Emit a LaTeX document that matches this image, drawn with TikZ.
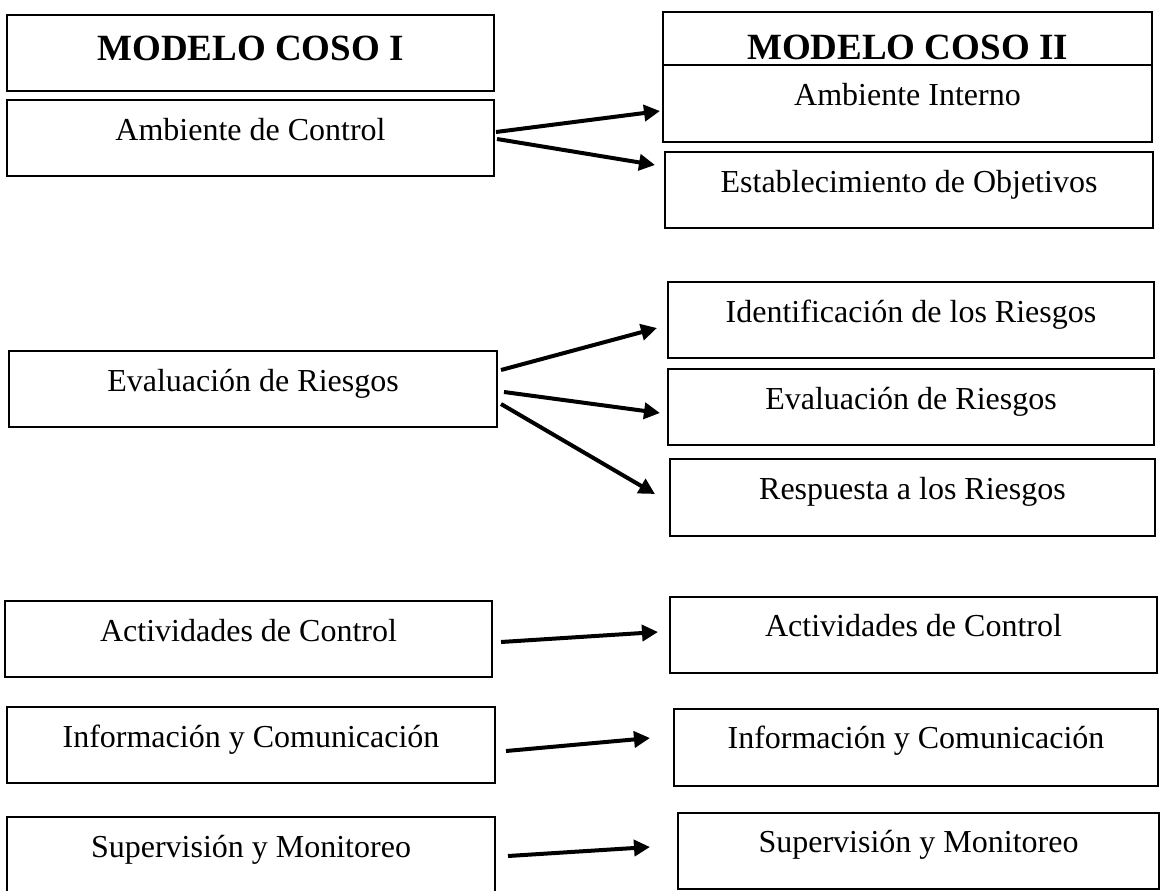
\documentclass[tikz,border=0pt]{standalone}
\usepackage{fontspec}
\setmainfont{Liberation Serif}
\usetikzlibrary{arrows.meta,calc}
\begin{document}
\begin{tikzpicture}[x=1pt,y=-1pt,
  box/.style n args={4}{draw, line width=2.3pt, inner sep=0pt, outer sep=0pt,
    minimum width=#1, minimum height=#2, text height=#3, text depth=#4,
    font=\fontsize{32}{38}\selectfont},
  titlefont/.style={font=\bfseries\fontsize{37}{44}\selectfont},
  conn/.style={line width=4pt, -{Triangle[length=16pt,width=16pt]}}]
\useasboundingbox (0,0) rectangle (1160,891);
% left column
\node[box={487pt}{76pt}{28pt}{12pt}, titlefont] (L0) at (250.5,53) {MODELO COSO I};
\node[box={487pt}{76pt}{22pt}{18pt}] (L1) at (250.5,138) {Ambiente de Control};
\node[box={488pt}{76pt}{22pt}{18pt}] (L2) at (253,389) {Evaluación de Riesgos};
\node[box={487pt}{76pt}{22pt}{18pt}] (L3) at (248.5,639) {Actividades de Control};
\node[box={488pt}{76pt}{22pt}{18pt}] (L4) at (251,745) {Información y Comunicación};
\node[box={488pt}{76pt}{22pt}{18pt}] (L5) at (251,855) {Supervisión y Monitoreo};
% right column
\node[box={489pt}{53pt}{45.5pt}{2.5pt}, titlefont] (R0) at (907.5,38.5) {MODELO COSO II};
\node[box={489pt}{77pt}{22.5pt}{17.5pt}] (R1) at (907.5,103.5) {Ambiente Interno};
\node[box={488pt}{76pt}{22pt}{18pt}] (R2) at (909,190) {Establecimiento de Objetivos};
\node[box={486pt}{76pt}{22pt}{18pt}] (R3) at (911,320) {Identificación de los Riesgos};
\node[box={486pt}{76pt}{22pt}{18pt}] (R4) at (911,407) {Evaluación de Riesgos};
\node[box={485pt}{77pt}{22pt}{18pt}] (R5) at (912.5,497.5) {Respuesta a los Riesgos};
\node[box={487pt}{76pt}{21pt}{19pt}] (R6) at (913.5,635) {Actividades de Control};
\node[box={484pt}{77pt}{21pt}{19pt}] (R7) at (916,747.5) {Información y Comunicación};
\node[box={481pt}{76pt}{21pt}{19pt}] (R8) at (918.5,851) {Supervisión y Monitoreo};
% connectors
\draw[conn] ($(L1.east)+(2,-6)$) -- ($(R1.west)+(-3,7.5)$);
\draw[conn] ($(L1.east)+(3,1)$) -- ($(R2.west)+(-10,-25)$);
\draw[conn] ($(L2.east)+(4,-19)$) -- ($(R3.west)+(-11,8)$);
\draw[conn] ($(L2.east)+(7,3)$) -- ($(R4.west)+(-8,6)$);
\draw[conn] ($(L2.east)+(4,15)$) -- ($(R5.west)+(-15,-3.5)$);
\draw[conn] ($(L3.east)+(9,3)$) -- ($(R6.west)+(-12,-3)$);
\draw[conn] ($(L4.east)+(11,6)$) -- ($(R7.west)+(-24,-9.5)$);
\draw[conn] ($(L5.east)+(13,1)$) -- ($(R8.west)+(-28,-4)$);
\end{tikzpicture}
\end{document}
